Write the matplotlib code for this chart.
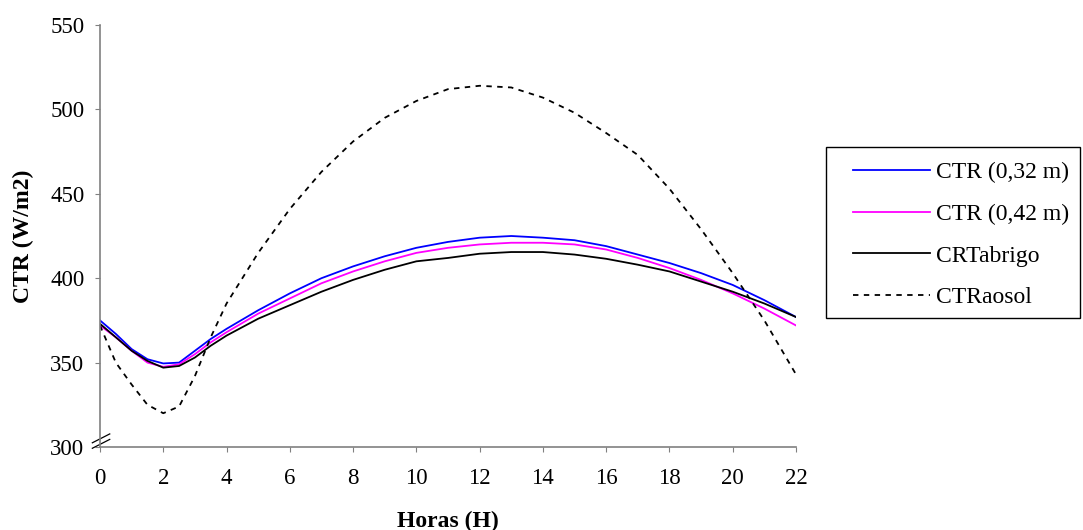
import matplotlib
matplotlib.use("Agg")
import matplotlib.pyplot as plt
from matplotlib.patches import Rectangle

hours = [0, 0.5, 1, 1.5, 2, 2.5, 3, 3.5, 4, 5, 6, 7, 8, 9, 10, 11, 12, 13, 14, 15, 16, 17, 18, 19, 20, 21, 22]
ctr_032 = [375, 367, 358, 352, 349.5, 350, 357, 364, 370, 381, 391, 400, 407, 413, 418, 421.5, 424, 425, 424, 422.5, 419, 414, 409, 403, 396, 387, 377]
ctr_042 = [372, 365, 357, 350, 347.5, 349, 355, 362, 368, 379, 388, 397, 404, 410, 415, 418, 420, 421, 421, 420, 417, 412, 406, 399, 391, 382, 372]
crt_abrigo = [373, 365, 357, 351, 347, 348, 353, 360, 366, 376, 384, 392, 399, 405, 410, 412, 414.5, 415.5, 415.5, 414, 411.5, 408, 404, 398, 392, 385, 377]
ctr_aosol = [372, 350, 337, 325, 320, 324, 342, 365, 385, 415, 441, 463, 481, 495, 505, 512, 514, 513, 507, 498, 486, 473, 453, 429, 403, 375, 343]

labels = ["CTR (0,32 m)", "CTR (0,42 m)", "CRTabrigo", "CTRaosol"]
xticks = list(range(0, 23, 2))
yticks = [300, 350, 400, 450, 500, 550]

plt.rcParams['font.family'] = ['Liberation Serif', 'DejaVu Serif']

W, H = 1083, 530
fig = plt.figure(figsize=(W / 100, H / 100), dpi=100)
ax = fig.add_axes([100/W, 1 - 447/H, 696/W, 422/H])

ax.plot(hours, ctr_032, color="#0000ff", lw=1.3, label=labels[0])
ax.plot(hours, ctr_042, color="#ff00ff", lw=1.3, label=labels[1])
ax.plot(hours, crt_abrigo, color="black", lw=1.3, label=labels[2])
ax.plot(hours, ctr_aosol, color="black", lw=1.3, ls=(0, (3, 3)), label=labels[3])

ax.set_xlim(0, 22)
ax.set_ylim(300, 550)
ax.set_xticks(xticks)
ax.set_yticks(yticks)
ax.tick_params(labelsize=16.5, color="#808080", length=3.3, direction="out")
ax.tick_params(axis="x", pad=12)
ax.tick_params(axis="y", pad=8)
for s in ["top", "right"]:
    ax.spines[s].set_visible(False)
for s in ["left", "bottom"]:
    ax.spines[s].set_color("#808080")
    ax.spines[s].set_linewidth(1.2)

# axis break marks
for y0, y1 in ((0.010, 0.031), (-0.003, 0.018)):
    ax.plot([-0.011, 0.014], [y0, y1], transform=ax.transAxes,
            color="black", lw=0.9, clip_on=False)

ax.set_xlabel("Horas (H)", fontsize=17, fontweight="bold")
ax.xaxis.set_label_coords(0.5, (447 - 521) / 422)
ax.xaxis.label.set_va("center")
ax.set_ylabel("CTR (W/m2)", fontsize=17, fontweight="bold")
ax.yaxis.set_label_coords((23.5 - 100) / 696, 0.5)
ax.yaxis.label.set_va("center")

# legend frame
fig.patches.append(Rectangle((826/W, 1 - 318/H), (1080 - 826)/W, (318 - 147)/H,
                             transform=fig.transFigure, fill=False, edgecolor="black", lw=1.0))
leg = ax.legend(loc="upper left", bbox_to_anchor=(853/W, 1 - 162/H), bbox_transform=fig.transFigure,
                fontsize=17, frameon=False, borderpad=0, labelspacing=0.85,
                handlelength=3.26, handletextpad=0.25, borderaxespad=0)

fig.savefig("out.png", dpi=100)
